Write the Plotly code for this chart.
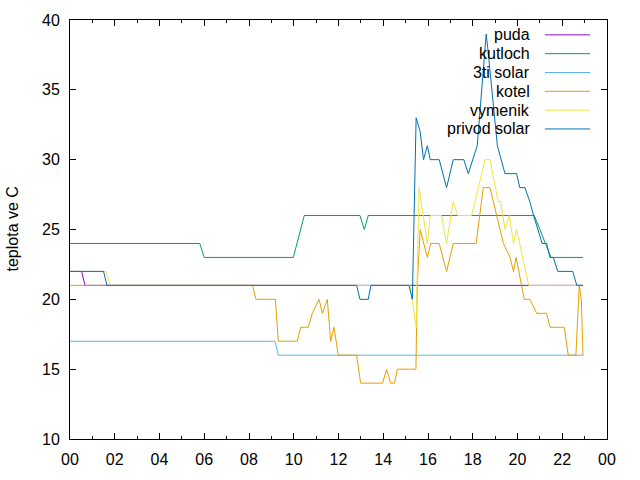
import plotly.graph_objects as go

# ---- data (hours of day, temperature in C) ----
names = ["puda", "kutloch", "3ti solar", "kotel", "vymenik", "privod solar"]
colors = ["#9400d3", "#009e73", "#56b4e9", "#e69f00", "#f0e442", "#0072b2"]

puda_t = [0, 0.52, 0.67, 22.93]
puda_v = [22, 22, 21, 21]

kutloch_t = [0, 5.8, 6.0, 9.98, 10.47, 12.96, 13.15, 13.33, 20.75, 21.5, 22.93]
kutloch_v = [24, 24, 23, 23, 26, 26, 25, 26, 26, 23, 23]

solar3_t = [0, 9.16, 9.31, 22.93]
solar3_v = [17, 17, 16, 16]

kotel_t = [0, 8.16, 8.31, 9.18, 9.31, 10.16, 10.31, 10.65, 10.83, 11.13, 11.28, 11.5,
           11.65, 11.8, 11.99, 12.81, 12.99, 13.97, 14.15, 14.33, 14.5, 14.63, 15.46,
           15.52, 15.65, 15.97, 16.12, 16.5, 16.83, 17.13, 18.15, 18.47, 18.77, 19.2,
           19.37, 19.67, 19.82, 19.94, 20.3, 20.55, 20.86, 21.3, 21.45, 22.09, 22.27,
           22.61, 22.76, 22.85, 22.93]
kotel_v = [21, 21, 20, 20, 17, 17, 18, 18, 19, 20, 19, 20,
           17, 18, 16, 16, 14, 14, 15, 14, 14, 15, 15,
           21, 25, 23, 24, 24, 22, 24, 24, 28, 28, 25,
           24, 23, 22, 23, 20, 20, 19, 19, 18, 18, 16,
           16, 21, 20, 16]

vymenik_t = [0, 1.6, 1.8, 15.2, 15.47, 15.6, 15.97, 16.1, 16.6, 16.83, 17.13, 17.33,
             17.95, 18.55, 18.77, 19.14, 19.25, 19.44, 19.64, 19.82, 19.96, 20.5, 22.93]
vymenik_v = [22, 22, 21, 21, 18, 28, 24, 26, 26, 24, 27, 26,
             26, 30, 30, 27, 27, 25, 26, 24, 25, 21, 21]

privod_t = [0, 1.5, 1.65, 12.81, 12.96, 13.33, 13.45, 15.15, 15.3, 15.36, 15.39, 15.47,
            15.65, 15.8, 15.97, 16.1, 16.5, 16.83, 17.13, 17.6, 17.8, 18.0, 18.2, 18.6,
            18.67, 19.1, 19.44, 19.96, 20.1, 20.33, 20.55, 20.72, 20.9, 21.1, 21.3,
            21.45, 21.6, 21.8, 22.47, 22.65, 22.93]
privod_v = [22, 22, 21, 21, 20, 20, 21, 21, 20, 24, 28, 33,
            32, 30, 31, 30, 30, 28, 30, 30, 29, 30, 31, 39,
            38, 31, 29, 29, 28, 28, 27, 26, 25, 24, 24,
            23, 23, 22, 22, 21, 21]

xtick_vals = list(range(0, 25, 2))
xtick_text = ["00", "02", "04", "06", "08", "10", "12", "14", "16", "18", "20", "22", "00"]
ytick_vals = [10, 15, 20, 25, 30, 35, 40]

series = [(puda_t, puda_v), (kutloch_t, kutloch_v), (solar3_t, solar3_v),
          (kotel_t, kotel_v), (vymenik_t, vymenik_v), (privod_t, privod_v)]

FONT = "Liberation Sans, Arial, sans-serif"

fig = go.Figure()
for (t, v), n, c in zip(series, names, colors):
    fig.add_trace(go.Scatter(x=t, y=v, mode="lines", name=n,
                             line=dict(color=c, width=1), showlegend=False))

# manual gnuplot-style legend (text right of which a line sample sits)
W, H = 537.0, 423.0
shapes = []
annotations = []
for i, (n, c) in enumerate(zip(names, colors)):
    py = 33 + i * 19
    yp = (441 - py) / H
    annotations.append(dict(x=(532 - 70) / W, y=yp, xref="paper", yref="paper",
                            text=n, showarrow=False, xanchor="right", yanchor="middle",
                            font=dict(family=FONT, size=16, color="black")))
    shapes.append(dict(type="line", xref="paper", yref="paper",
                       x0=(545 - 70) / W, x1=(590 - 70) / W, y0=yp, y1=yp,
                       line=dict(color=c, width=1)))

annotations.append(dict(x=(12 - 70) / W, y=0.5, xref="paper", yref="paper",
                        text="teplota ve C", textangle=-90, showarrow=False,
                        xanchor="center", yanchor="middle",
                        font=dict(family=FONT, size=16, color="black")))

fig.update_layout(
    width=640, height=480,
    margin=dict(l=70, r=33, t=18, b=39),
    paper_bgcolor="white", plot_bgcolor="white",
    font=dict(family=FONT, size=16, color="black"),
    shapes=shapes, annotations=annotations,
    xaxis=dict(range=[0, 24], tickvals=xtick_vals, ticktext=xtick_text,
               showgrid=False, zeroline=False, showline=True, linecolor="black",
               linewidth=1, mirror="ticks", ticks="inside", ticklen=6,
               tickcolor="black", ticklabelstandoff=6,
               minor=dict(dtick=1, tick0=0, ticks="inside", ticklen=3,
                          tickcolor="black", showgrid=False)),
    yaxis=dict(range=[10, 40], tickvals=ytick_vals, showgrid=False, zeroline=False,
               showline=True, linecolor="black", linewidth=1, mirror="ticks",
               ticks="inside", ticklen=6, tickcolor="black", ticklabelstandoff=6),
)

fig.write_html("out.html")
